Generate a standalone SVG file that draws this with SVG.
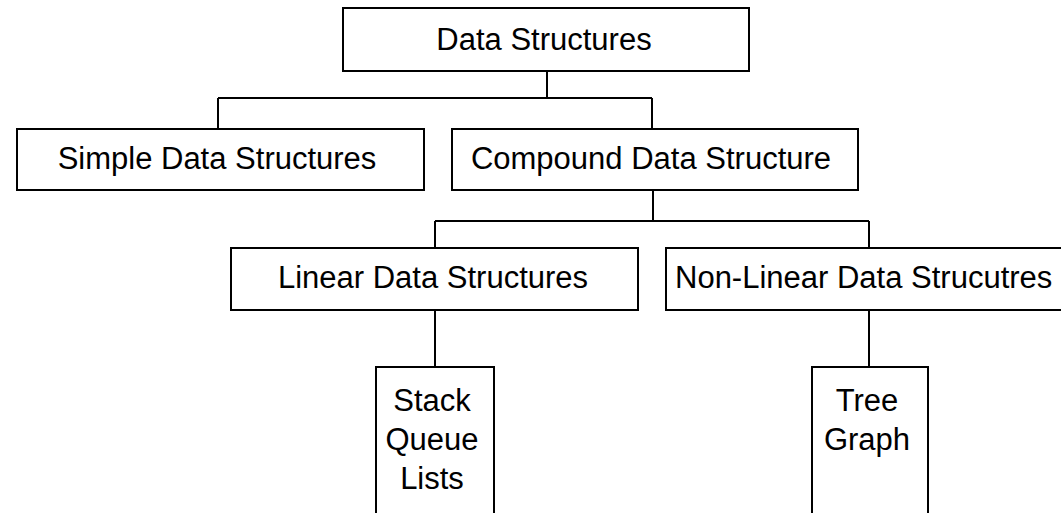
<svg xmlns="http://www.w3.org/2000/svg" width="1061" height="513" viewBox="0 0 1061 513">
  <style>
    .box { fill: #ffffff; stroke: #000000; stroke-width: 2; }
    .wire { fill: none; stroke: #000000; stroke-width: 2; }
    .label { font-family: "Liberation Sans", Arial, sans-serif; font-size: 31px; fill: #000000; text-anchor: middle; }
    .start { text-anchor: start; }
  </style>
  <rect width="1061" height="513" fill="#ffffff"/>

  <!-- tree connectors -->
  <g id="connectors">
    <path class="wire" d="M547 71 V98 M218 98 H652 M218 98 V129 M652 98 V129"/>
    <path class="wire" d="M653 190 V221 M435 221 H869 M435 221 V248 M869 221 V248"/>
    <path class="wire" d="M435 310 V367"/>
    <path class="wire" d="M869 310 V367"/>
  </g>

  <g id="data-structures">
    <rect class="box" x="343" y="8" width="406" height="63"/>
    <text class="label" x="544" y="50">Data Structures</text>
  </g>

  <g id="simple">
    <rect class="box" x="17" y="129" width="407" height="61"/>
    <text class="label" x="217" y="169">Simple Data Structures</text>
  </g>

  <g id="compound">
    <rect class="box" x="452" y="129" width="406" height="61"/>
    <text class="label" x="651" y="169">Compound Data Structure</text>
  </g>

  <g id="linear">
    <rect class="box" x="231" y="248" width="407" height="62"/>
    <text class="label" x="433" y="288">Linear Data Structures</text>
  </g>

  <g id="non-linear">
    <rect class="box" x="666" y="248" width="410" height="62"/>
    <text class="label start" x="675" y="288">Non-Linear Data Strucutres</text>
  </g>

  <g id="linear-types">
    <rect class="box" x="376" y="367" width="118" height="160"/>
    <text class="label" x="432" y="411">Stack</text>
    <text class="label" x="432" y="450">Queue</text>
    <text class="label" x="432" y="489">Lists</text>
  </g>

  <g id="non-linear-types">
    <rect class="box" x="812" y="367" width="116" height="160"/>
    <text class="label" x="867" y="411">Tree</text>
    <text class="label" x="867" y="450">Graph</text>
  </g>
</svg>
